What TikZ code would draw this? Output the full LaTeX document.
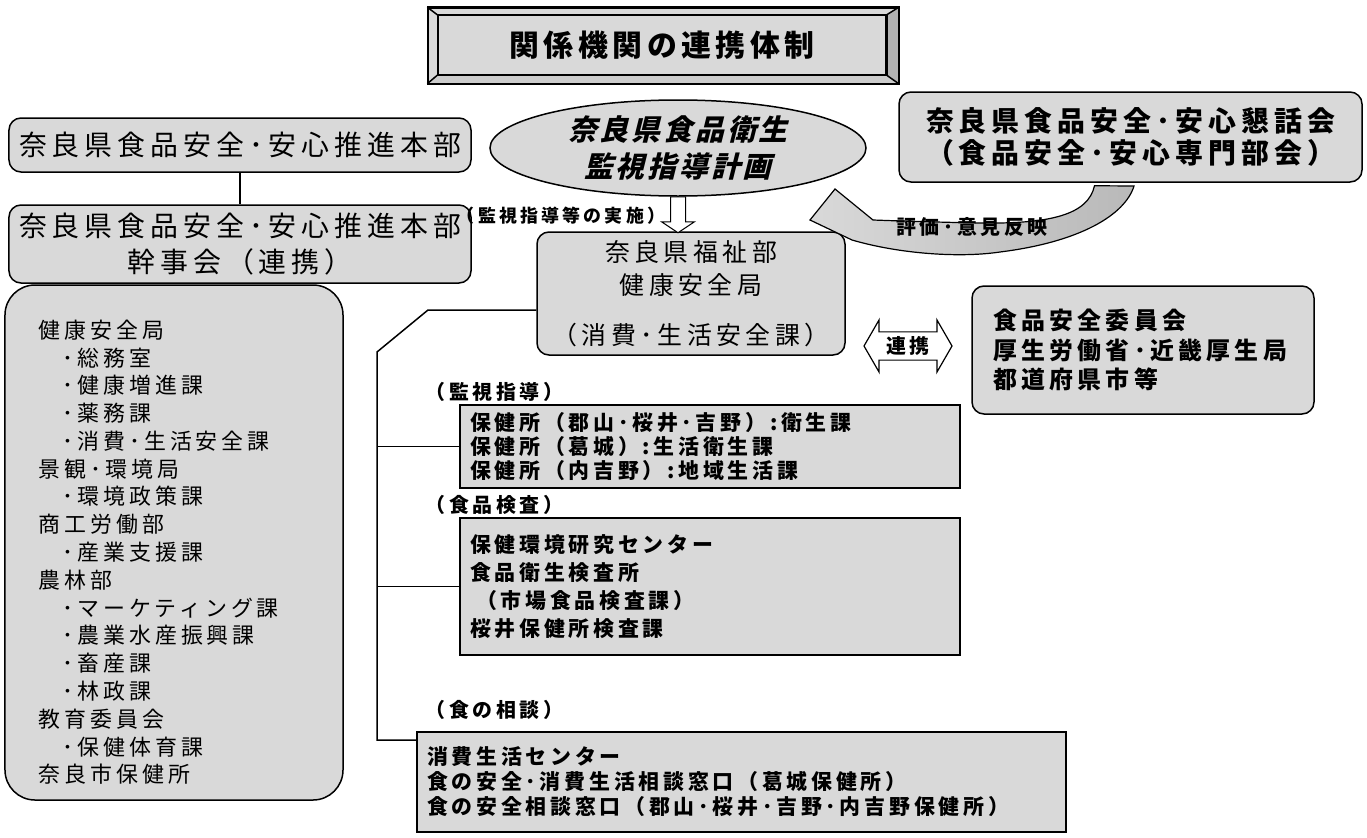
\documentclass[tikz,border=0pt]{standalone}
\usepackage{fontspec}
\usetikzlibrary{calc,positioning,shapes.geometric,shapes.arrows}
\newfontfamily\jp[LetterSpace=18]{Noto Sans CJK JP}
\newfontfamily\jpwide[LetterSpace=15]{Noto Sans CJK JP}
\newfontfamily\jpslant[LetterSpace=10,FakeSlant=0.25]{Noto Sans CJK JP}
\definecolor{dotgray}{gray}{0.85}
\tikzset{
  rbox/.style={draw, fill=dotgray, line width=1.5bp, rounded corners=12bp},
  sbox/.style={draw, fill=dotgray, line width=1.5bp},
  tag/.style={anchor=west, inner sep=0, font=\jp\bfseries\fontsize{20}{24}\selectfont},
}

\begin{document}
\begin{tikzpicture}[x=1bp, y=-1bp, line width=1.5bp]
        \useasboundingbox (0,0) rectangle (1367,837);
        % title frame
        \node [draw, fill=dotgray, minimum width=470bp, minimum height=75bp] (titleframe) at (663,45.5) {};
        \node [draw, fill=dotgray, minimum width=448bp, minimum height=59bp, font=\jpwide\bfseries\fontsize{30}{36}\selectfont] (title) at (662,45) {関係機関の連携体制};
        \fill[gray!60] (titleframe.north east) -- (title.north east) -- (title.south east) -- (titleframe.south east) -- cycle;
        \fill[gray!40] (titleframe.south west) -- (title.south west) -- (title.south east) -- (titleframe.south east) -- cycle;
        \draw (titleframe.north west) -- (title.north west) (titleframe.north east) -- (title.north east)
              (titleframe.south west) -- (title.south west) (titleframe.south east) -- (title.south east);
        \draw (title.north west) rectangle (title.south east);
        \draw (titleframe.north west) rectangle (titleframe.south east);

        % left column
        \node [rbox, minimum width=462bp, minimum height=54bp, font=\jp\fontsize{28}{33}\selectfont] (honbu) at (240,145) {奈良県食品安全･安心推進本部};
        \node [rbox, minimum width=462bp, minimum height=78bp, align=center, font=\jp\fontsize{28}{36}\selectfont] (kanji) at (240,244) {奈良県食品安全･安心推進本部\\幹事会（連携）};
        \draw (honbu) -- (kanji);
        \node [rbox, rounded corners=30bp, minimum width=338bp, minimum height=515bp] (busho) at (174,542.5) {};
        \node [anchor=north west, inner sep=0, align=left, font=\jp\fontsize{22}{27.9}\selectfont] (bushotext) at (38,319) {健康安全局\\
          \hspace*{24bp}･総務室\\
          \hspace*{24bp}･健康増進課\\
          \hspace*{24bp}･薬務課\\
          \hspace*{24bp}･消費･生活安全課\\
          景観･環境局\\
          \hspace*{24bp}･環境政策課\\
          商工労働部\\
          \hspace*{24bp}･産業支援課\\
          農林部\\
          \hspace*{24bp}･マーケティング課\\
          \hspace*{24bp}･農業水産振興課\\
          \hspace*{24bp}･畜産課\\
          \hspace*{24bp}･林政課\\
          教育委員会\\
          \hspace*{24bp}･保健体育課\\
          奈良市保健所};

        % plan and centre
        \node [ellipse, draw, fill=dotgray, minimum width=376bp, minimum height=96bp, inner sep=0, align=center, font=\jpslant\bfseries\fontsize{29}{37}\selectfont] (plan) at (678,148) {奈良県食品衛生\\監視指導計画};
        \node [rbox, minimum width=308bp, minimum height=123bp, align=center, font=\jp\fontsize{25}{33}\selectfont] (fukushi) at (691,293.5) {奈良県福祉部\\健康安全局\\[17bp]（消費･生活安全課）};
        \coordinate (dtop) at (plan.south);
        \draw[fill=white, line width=1bp] (dtop) ++(-7.5,0) -- ++(15,0) -- ++(0,25) -- ++(9,0) -- ++(-16.5,11) -- ++(-16.5,-11) -- ++(9,0) -- cycle;
        \node [tag, anchor=east, font=\jp\bfseries\fontsize{18}{22}\selectfont] (jisshi) at (666,216) {（監視指導等の実施）};

        % right side
        \node [rbox, minimum width=463bp, minimum height=90bp, align=center, font=\jp\bfseries\fontsize{28}{33}\selectfont] (kondan) at (1130.5,137) {奈良県食品安全･安心懇話会\\（食品安全･安心専門部会）};
        \coordinate (ctail) at ($(kondan.south)+(-36,3)$);
        \shade[left color=dotgray, middle color=dotgray, right color=gray!55] (ctail) .. controls (1088,215) and (1050,224) .. (980,223) .. controls (930,222) and (900,221) .. (873,220)
              -- (835,189) -- (810,220) -- (852,240) .. controls (900,254) and (960,258) .. (1000,252) .. controls (1080,242) and (1125,215) .. (1134,186) -- cycle;
        \draw[line width=1.2bp] (ctail) .. controls (1088,215) and (1050,224) .. (980,223) .. controls (930,222) and (900,221) .. (873,220)
              -- (835,189) -- (810,220) -- (852,240) .. controls (900,254) and (960,258) .. (1000,252) .. controls (1080,242) and (1125,215) .. (1134,186) -- cycle;
        \node [inner sep=0, font=\jp\bfseries\fontsize{20}{22}\selectfont] (hyouka) at (972,227) {評価･意見反映};
        \node [double arrow, draw, fill=white, line width=1.2bp, minimum height=88bp, double arrow head extend=12bp, double arrow tip angle=120, inner sep=4bp, font=\jp\bfseries\fontsize{20}{24}\selectfont] (renkei) at (908,346) {連携};
        \node [rbox, minimum width=342bp, minimum height=128bp, text width=300bp, align=left, font=\jp\bfseries\fontsize{24}{30}\selectfont] (kikan) at (1143,350) {食品安全委員会\\厚生労働省･近畿厚生局\\都道府県市等};

        % branches
        \node [tag] (l1) at (425,392) {（監視指導）};
        \node [sbox, minimum width=500bp, minimum height=83bp, text width=480bp, align=left, font=\jp\bfseries\fontsize{21}{24}\selectfont] (kanshi) at (710,446.5) {保健所（郡山･桜井･吉野）:衛生課\\保健所（葛城）:生活衛生課\\保健所（内吉野）:地域生活課};
        \node [tag] (l2) at (425,505) {（食品検査）};
        \node [sbox, minimum width=500bp, minimum height=137bp, text width=480bp, align=left, font=\jp\bfseries\fontsize{21}{28}\selectfont] (kensa) at (710,586.5) {保健環境研究センター\\食品衛生検査所\\\hspace*{6bp}（市場食品検査課）\\桜井保健所検査課};
        \node [tag] (l3) at (425,710) {（食の相談）};
        \node [sbox, minimum width=649bp, minimum height=100bp, text width=629bp, align=left, font=\jp\bfseries\fontsize{21}{25}\selectfont] (soudan) at (741.5,782) {消費生活センター\\食の安全･消費生活相談窓口（葛城保健所）\\食の安全相談窓口（郡山･桜井･吉野･内吉野保健所）};

        \coordinate (trunk) at (377,352);
        \coordinate (tend) at (377,740);
        \draw ($(fukushi.west)+(0,16.5)$) -- (428,310) -- (trunk) -- (tend) -- (tend -| soudan.west);
        \draw (trunk |- kanshi.west) -- (kanshi.west);
        \draw (trunk |- kensa.west) -- (kensa.west);
\end{tikzpicture}
\end{document}
